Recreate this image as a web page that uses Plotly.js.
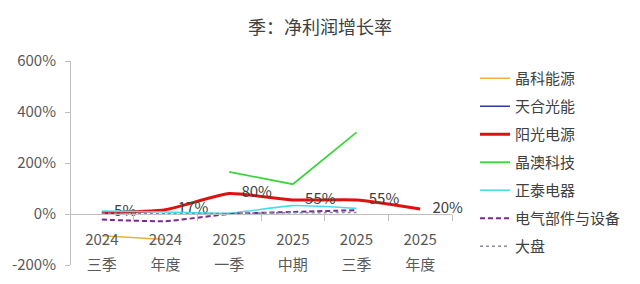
<!DOCTYPE html>
<html>
<head>
<meta charset="utf-8">
<script src="https://cdn.plot.ly/plotly-3.0.1.min.js"></script>
<style>html,body{margin:0;padding:0;background:#fff;}#chart{width:640px;height:284px;}</style>
</head>
<body>
<div id="chart"></div>
<script>
const cats = ['2024三季','2024年度','2025一季','2025中期','2025三季','2025年度'];
const years = ['2024','2024','2025','2025','2025','2025'];
const quarters = ['三季','年度','一季','中期','三季','年度'];

const jinko   = [-85, -100, null, null, null, null];
const trina   = [null, null, null, null, null, null];
const sungrow = [5, 17, 80, 55, 55, 20];
const jaSolar = [null, null, 165, 117, 320, null];
const chint   = [12, 8, 3, 33, 22, null];
const sector  = [-22, -28, 0, 8, 15, null];
const market  = [3, 1, 2, 5, 6, null];

const names = ['晶科能源','天合光能','阳光电源','晶澳科技','正泰电器','电气部件与设备','大盘'];
const yTicks = [-200, 0, 200, 400, 600];
const yTickText = ['-200%','0%','200%','400%','600%'];

const FONT = '"Noto Sans CJK SC", "Noto Sans", sans-serif';
const TXT = '#404040';

function line(name, y, color, width, dash, group, shape) {
  return {
    type: 'scatter', mode: 'lines', name: name, x: cats, y: y,
    legendgroup: group,
    line: {color: color, width: width, dash: dash || 'solid', shape: shape || 'spline', smoothing: 0.5},
    connectgaps: false, hoverinfo: 'skip'
  };
}

const traces = [
  line(names[0], jinko, '#F5AE36', 1.5, 'solid', 'g0', 'linear'),
  line(names[1], trina, '#2B3A9E', 1.5, 'solid', 'g1'),
  Object.assign(line(names[2], sungrow, '#E01010', 3, 'solid', 'g2'), {
    mode: 'lines+markers+text',
    marker: {size: 18, color: 'rgba(0,0,0,0)'},
    text: sungrow.map(v => v + '%'),
    textposition: 'middle right',
    textfont: {family: FONT, size: 15, color: TXT},
    cliponaxis: false
  }),
  line(names[3], jaSolar, '#3CD63C', 1.8, 'solid', 'g3', 'linear'),
  line(names[4], chint, '#45DDEE', 1.6, 'solid', 'g4'),
  line(names[5], sector, '#7A2A92', 2, '5px,3px', 'g5'),
  line(names[6], market, '#8A8AA0', 1.6, 'dot', 'g6'),
  {type: 'scatter', mode: 'lines', x: cats, y: cats.map(() => null), xaxis: 'x2',
   showlegend: false, hoverinfo: 'skip'}
];

const xBase = {
  type: 'category', categoryorder: 'array', categoryarray: cats,
  range: [-0.5, 5.5], anchor: 'free', position: 0.25,
  tickvals: cats, fixedrange: true,
  tickfont: {family: FONT, size: 15, color: '#595959'},
  showgrid: false, zeroline: false
};

const layout = {
  width: 640, height: 284,
  margin: {l: 70, r: 188, t: 61, b: 19, pad: 0},
  paper_bgcolor: '#ffffff', plot_bgcolor: '#ffffff',
  font: {family: FONT, color: TXT},
  title: {text: '季：净利润增长率', x: 0.5, xref: 'container', xanchor: 'center',
          y: 1 - 28/284, yref: 'container', yanchor: 'middle',
          font: {family: FONT, size: 18, color: '#404040'}},
  showlegend: true,
  legend: {xref: 'container', yref: 'container', x: 475/640, y: 1 - 62/284,
           xanchor: 'left', yanchor: 'top', traceorder: 'grouped', tracegroupgap: 5.5,
           maxheight: 260,
           font: {family: FONT, size: 15, color: TXT}, bgcolor: 'rgba(0,0,0,0)'},
  xaxis: Object.assign({}, xBase, {
    ticktext: years, showline: true, linecolor: '#BFBFBF', linewidth: 1,
    ticks: 'outside', tickson: 'boundaries', ticklen: 6, tickcolor: '#BFBFBF',
    ticklabelstandoff: 12
  }),
  xaxis2: Object.assign({}, xBase, {
    overlaying: 'x', ticktext: quarters, showline: false, ticks: '',
    ticklabelstandoff: 40
  }),
  yaxis: {
    range: [-200, 600], tickvals: yTicks, ticktext: yTickText,
    anchor: 'free', position: 0,
    showline: true, linecolor: '#BFBFBF', linewidth: 1,
    ticks: 'outside', ticklen: 5, tickcolor: '#BFBFBF',
    showgrid: false, zeroline: false, fixedrange: true,
    tickfont: {family: FONT, size: 15, color: '#595959'},
    ticklabelstandoff: 6
  }
};

Plotly.newPlot('chart', traces, layout, {displayModeBar: false, staticPlot: true});
</script>
</body>
</html>
